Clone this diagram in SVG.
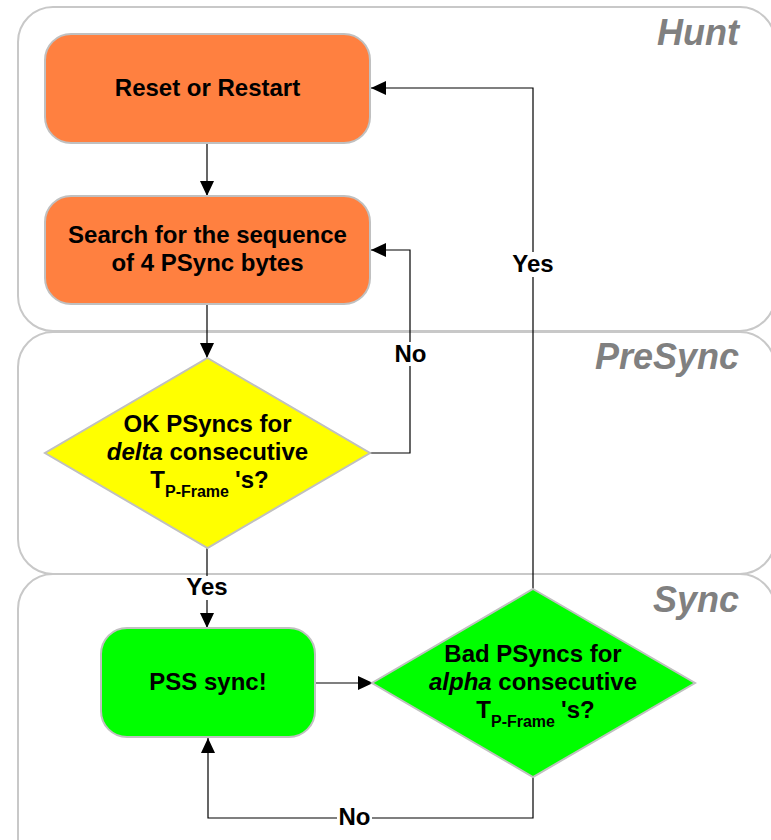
<svg xmlns="http://www.w3.org/2000/svg" width="771" height="840" viewBox="0 0 771 840">
  <defs>
    <marker id="arrow" markerUnits="userSpaceOnUse" markerWidth="16" markerHeight="14" refX="15" refY="7" orient="auto">
      <path d="M0,0 L15,7 L0,14 z" fill="#000"/>
    </marker>
    <style>
      .lane { fill: none; stroke: #c8c8c8; stroke-width: 2; }
      .lane-title { font-family: "Liberation Sans", Arial, sans-serif; font-weight: bold; font-style: italic; font-size: 36px; fill: #808080; text-anchor: end; }
      .box { stroke: #c0c0c0; stroke-width: 2; }
      .orange { fill: #ff8040; }
      .yellow { fill: #ffff00; }
      .green { fill: #00ff00; }
      .label { font-family: "Liberation Sans", Arial, sans-serif; font-weight: bold; font-size: 24px; fill: #000; text-anchor: middle; }
      .sub { font-size: 16px; }
      .em { font-style: italic; }
      .wire { fill: none; stroke: #000; stroke-width: 1.2; }
      .tagbg { fill: #fff; }
    </style>
  </defs>

  <!-- swimlanes -->
  <g id="lanes">
    <rect class="lane" x="18" y="7" width="757" height="324" rx="35" ry="35"/>
    <rect class="lane" x="18" y="332" width="757" height="242" rx="35" ry="35"/>
    <rect class="lane" x="18" y="574" width="757" height="300" rx="35" ry="35"/>
    <text class="lane-title" x="739" y="45">Hunt</text>
    <text class="lane-title" x="739" y="369">PreSync</text>
    <text class="lane-title" x="739" y="612">Sync</text>
  </g>

  <!-- connectors -->
  <g id="connectors">
    <path class="wire" d="M207,143 V196" marker-end="url(#arrow)"/>
    <path class="wire" d="M207,304 V358" marker-end="url(#arrow)"/>
    <path class="wire" d="M370,453 H410 V250 H371" marker-end="url(#arrow)"/>
    <path class="wire" d="M207,548 V628" marker-end="url(#arrow)"/>
    <path class="wire" d="M315,683 H373" marker-end="url(#arrow)"/>
    <path class="wire" d="M533,777 V818 H208 V738" marker-end="url(#arrow)"/>
    <path class="wire" d="M533,589 V88 H371" marker-end="url(#arrow)"/>

    <rect class="tagbg" x="393" y="342" width="35" height="24"/>
    <text class="label" x="410.5" y="362">No</text>
    <rect class="tagbg" x="183" y="576" width="49" height="24"/>
    <text class="label" x="207" y="595">Yes</text>
    <rect class="tagbg" x="337" y="806" width="35" height="24"/>
    <text class="label" x="354.5" y="825">No</text>
    <rect class="tagbg" x="508" y="252" width="50" height="25"/>
    <text class="label" x="533" y="272">Yes</text>
  </g>

  <!-- nodes -->
  <g id="reset">
    <rect class="box orange" x="45" y="34" width="325" height="109" rx="26" ry="26"/>
    <text class="label" x="207.5" y="96">Reset or Restart</text>
  </g>

  <g id="search">
    <rect class="box orange" x="45" y="196" width="325" height="108" rx="26" ry="26"/>
    <text class="label" x="207.5" y="243">Search for the sequence</text>
    <text class="label" x="207.5" y="271">of 4 PSync bytes</text>
  </g>

  <g id="presync-check">
    <polygon class="box yellow" points="207.5,358 370,453 207.5,548 45,453"/>
    <text class="label" x="207.5" y="432">OK PSyncs for</text>
    <text class="label" x="207.5" y="460"><tspan class="em">delta</tspan> consecutive</text>
    <text class="label" x="209.5" y="488">T<tspan class="sub" dy="9">P-Frame</tspan><tspan dx="6" dy="-9">'s?</tspan></text>
  </g>

  <g id="pss-sync">
    <rect class="box green" x="101" y="628" width="214" height="109" rx="26" ry="26"/>
    <text class="label" x="208" y="690">PSS sync!</text>
  </g>

  <g id="sync-check">
    <polygon class="box green" points="533,589 695,683 533,777 372,683"/>
    <text class="label" x="533" y="662">Bad PSyncs for</text>
    <text class="label" x="533" y="690"><tspan class="em">alpha</tspan> consecutive</text>
    <text class="label" x="535.5" y="718">T<tspan class="sub" dy="9">P-Frame</tspan><tspan dx="6" dy="-9">'s?</tspan></text>
  </g>
</svg>
